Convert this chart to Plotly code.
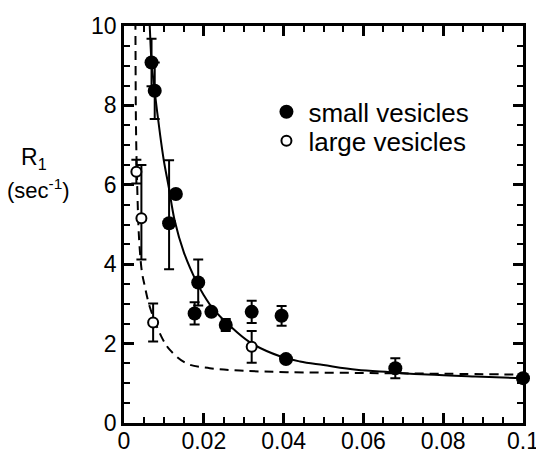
import plotly.graph_objects as go

# small vesicles (filled)
small_x = [0.0069, 0.0077, 0.0130, 0.0113, 0.0186, 0.0177, 0.0219, 0.0255, 0.0320, 0.0395, 0.0406, 0.0680, 0.1000]
small_y = [9.08, 8.37, 5.77, 5.03, 3.54, 2.76, 2.80, 2.47, 2.80, 2.70, 1.61, 1.38, 1.13]
small_err_plus = [0.6, 0.71, 0.0, 1.59, 0.58, 0.28, 0.0, 0.15, 0.28, 0.25, 0.0, 0.25, 0.0]
small_err_minus = [0.6, 0.71, 0.0, 1.16, 0.58, 0.28, 0.0, 0.15, 0.28, 0.25, 0.0, 0.25, 0.0]

# large vesicles (open)
large_x = [0.0031, 0.00436, 0.0073, 0.0320]
large_y = [6.33, 5.16, 2.53, 1.92]
large_err_plus = [0.3, 1.34, 0.48, 0.4]
large_err_minus = [0.3, 1.04, 0.48, 0.4]

# fitted curves
fit_small_x = [0.0062, 0.00645, 0.0069, 0.0077, 0.0090, 0.0100, 0.0112, 0.0127, 0.0150, 0.0182, 0.0200,
               0.0223, 0.0265, 0.0316, 0.0391, 0.0441, 0.0500, 0.0583, 0.0667, 0.0760, 0.0880, 0.1000]
fit_small_y = [10.5, 10.0, 9.1, 8.35, 7.3, 6.6, 5.95, 5.1, 4.3, 3.55, 3.22,
               2.88, 2.45, 2.03, 1.68, 1.55, 1.46, 1.34, 1.28, 1.22, 1.17, 1.13]

fit_large_x = [0.0028, 0.00286, 0.0030, 0.0033, 0.0038, 0.0045, 0.0052, 0.00645, 0.0094, 0.0115,
               0.0157, 0.0215, 0.0290, 0.0408, 0.0600, 0.0800, 0.1000]
fit_large_y = [10.5, 10.0, 7.5, 6.0, 4.6, 3.8, 3.45, 2.93, 2.17, 1.84,
               1.50, 1.38, 1.32, 1.28, 1.26, 1.24, 1.22]

x_ticks = [0, 0.02, 0.04, 0.06, 0.08, 0.1]
x_tick_labels = ["0", "0.02", "0.04", "0.06", "0.08", "0.1"]
x_minor_ticks = [0.005, 0.01, 0.015, 0.025, 0.03, 0.035, 0.045, 0.05, 0.055,
                 0.065, 0.07, 0.075, 0.085, 0.09, 0.095]
y_ticks = [0, 2, 4, 6, 8, 10]
y_tick_labels = ["0", "2", "4", "6", "8", "10"]
y_minor_ticks = [0.5, 1, 1.5, 2.5, 3, 3.5, 4.5, 5, 5.5, 6.5, 7, 7.5, 8.5, 9, 9.5]

FONT = "Liberation Sans, Arial, sans-serif"
X_RANGE = [0, 0.1]
Y_RANGE = [0, 10]

fig = go.Figure()

fig.add_trace(go.Scatter(x=fit_small_x, y=fit_small_y, mode="lines", line=dict(color="black", width=2, shape="spline"),
                         showlegend=False, hoverinfo="skip"))
fig.add_trace(go.Scatter(x=fit_large_x, y=fit_large_y, mode="lines",
                         line=dict(color="black", width=2, dash="9px,6px", shape="spline"),
                         showlegend=False, hoverinfo="skip"))

fig.add_trace(go.Scatter(
    x=small_x, y=small_y, mode="markers", name="small vesicles", legend="legend",
    marker=dict(symbol="circle", size=14, color="black"),
    error_y=dict(type="data", array=small_err_plus, arrayminus=small_err_minus, symmetric=False,
                 color="black", thickness=2, width=5),
    cliponaxis=False))

fig.add_trace(go.Scatter(
    x=large_x, y=large_y, mode="markers", name="large vesicles", legend="legend2",
    marker=dict(symbol="circle", size=10, color="white", line=dict(color="black", width=2)),
    error_y=dict(type="data", array=large_err_plus, arrayminus=large_err_minus, symmetric=False,
                 color="black", thickness=2, width=5),
    cliponaxis=False))

tickfont = dict(family=FONT, size=23, color="black")

fig.update_layout(
    xaxis=dict(range=X_RANGE, tickmode="array", tickvals=x_ticks, ticktext=x_tick_labels,
               showgrid=False, zeroline=False, showline=True, linecolor="black", linewidth=2.5,
               mirror="ticks", ticks="inside", ticklen=10, tickwidth=2.5, tickcolor="black",
               tickfont=tickfont, ticklabeloverflow="allow", automargin=False, ticklabelstandoff=-4),
    yaxis=dict(range=Y_RANGE, tickmode="array", tickvals=y_ticks, ticktext=y_tick_labels,
               showgrid=False, zeroline=False, showline=True, linecolor="black", linewidth=2.5,
               mirror="ticks", ticks="inside", ticklen=10, tickwidth=2.5, tickcolor="black",
               tickfont=tickfont, ticklabeloverflow="allow", automargin=False),
    xaxis2=dict(overlaying="x", matches="x", range=X_RANGE, tickmode="array", tickvals=x_minor_ticks,
                showticklabels=False, showgrid=False, zeroline=False, showline=False,
                mirror="ticks", ticks="inside", ticklen=6, tickwidth=2, tickcolor="black", automargin=False),
    yaxis2=dict(overlaying="y", matches="y", range=Y_RANGE, tickmode="array", tickvals=y_minor_ticks,
                showticklabels=False, showgrid=False, zeroline=False, showline=False,
                mirror="ticks", ticks="inside", ticklen=6, tickwidth=2, tickcolor="black", automargin=False),
)
# an invisible trace so that the minor-tick axes are drawn
fig.add_trace(go.Scatter(x=[X_RANGE[0]], y=[Y_RANGE[0]], xaxis="x2", yaxis="y2", mode="markers",
                         marker=dict(opacity=0), showlegend=False, hoverinfo="skip"))

fig.add_annotation(x=-0.226, y=0.667, xref="paper", yref="paper", xanchor="center", yanchor="middle",
                   showarrow=False, text="R<sub>1</sub>", font=dict(family=FONT, size=23, color="black"))
fig.add_annotation(x=-0.215, y=0.59, xref="paper", yref="paper", xanchor="center", yanchor="middle",
                   showarrow=False, text="(sec<sup>-1</sup>)", font=dict(family=FONT, size=22, color="black"))

legend_font = dict(family=FONT, size=26, color="black")
fig.update_layout(
    width=536, height=455,
    margin=dict(l=124, r=13, t=26, b=32),
    paper_bgcolor="white", plot_bgcolor="rgba(0,0,0,0)",
    legend=dict(x=0.352, y=0.843, xanchor="left", yanchor="top", bgcolor="rgba(0,0,0,0)",
                font=legend_font, itemwidth=34),
    legend2=dict(x=0.352, y=0.770, xanchor="left", yanchor="top", bgcolor="rgba(0,0,0,0)",
                 font=legend_font, itemwidth=34),
    showlegend=True,
)

fig.write_html("out.html", config={"displayModeBar": False},
               post_script="document.body.style.margin='0';")
